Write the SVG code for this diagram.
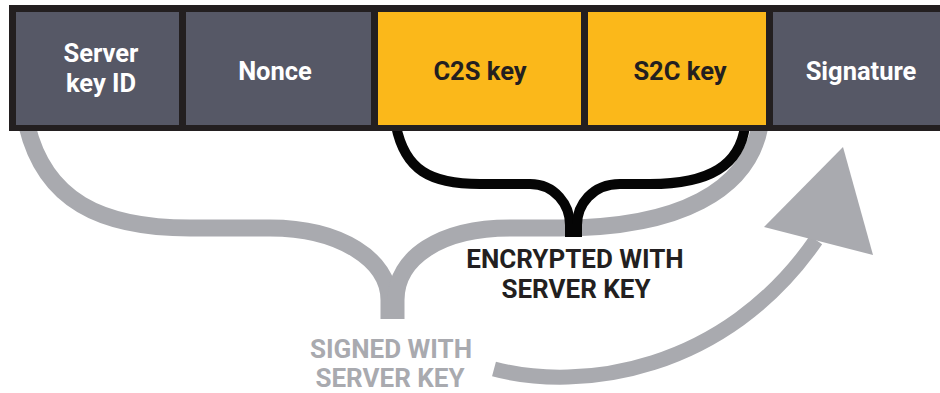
<svg xmlns="http://www.w3.org/2000/svg" width="940" height="393" viewBox="0 0 940 393">
<defs>
<style>
.cell-dark{fill:#565866}
.cell-key{fill:#FBB81A}
.lbl{font-family:Roboto,"Liberation Sans",sans-serif;font-weight:bold;font-size:25.5px;text-anchor:middle}
.lw{fill:#FFFFFF}
.lk{fill:#231F20}
.cap{font-family:Roboto,"Liberation Sans",sans-serif;font-weight:bold;font-size:26px;text-anchor:middle}
.gray-brace{fill:none;stroke:#A9AAAF;stroke-width:17}
.black-brace{fill:none;stroke:#050505;stroke-width:10}
</style>
</defs>
<rect width="940" height="393" fill="#FFFFFF"/>
<g id="connectors">
<path class="gray-brace" d="M27 126 C45 200,100 228,190 228 L270 228 C340 228,389 260,389 300 L389 319"/>
<path class="gray-brace" d="M396 319 L396 300 C396 258,440 228,510 228 L560 228 C680 228,748 190,760 126"/>
<path class="black-brace" d="M396 126 C405 170,430 184,480 184 L530 184 C555 184,570 205,570 225 L570 237"/>
<path class="black-brace" d="M577 237 L577 225 C577 205,592 184,620 184 L650 184 C710 184,740 165,745 126"/>
<path fill="none" stroke="#A9AAAF" stroke-width="15" d="M494 369 C580 392,725 372,816 240"/>
<polygon fill="#A9AAAF" points="843,147 764,227 873,255"/>
</g>
<rect x="9" y="5" width="931" height="126" fill="#231F20"/>
<g id="server-key-id">
<rect class="cell-dark" x="16" y="12" width="163" height="113"/>
<text class="lbl lw" x="101" y="62">Server</text>
<text class="lbl lw" x="101" y="92">key ID</text>
</g>
<g id="nonce">
<rect class="cell-dark" x="186" y="12" width="185" height="113"/>
<text class="lbl lw" x="275" y="80">Nonce</text>
</g>
<g id="c2s-key">
<rect class="cell-key" x="378" y="12" width="203" height="113"/>
<text class="lbl lk" x="480" y="80">C2S key</text>
</g>
<g id="s2c-key">
<rect class="cell-key" x="588" y="12" width="178" height="113"/>
<text class="lbl lk" x="680" y="80">S2C key</text>
</g>
<g id="signature">
<rect class="cell-dark" x="773" y="12" width="167" height="113"/>
<text class="lbl lw" x="861" y="80">Signature</text>
</g>
<g id="labels">
<text class="cap" fill="#231F20" x="575" y="268">ENCRYPTED WITH</text>
<text class="cap" fill="#231F20" x="576" y="298">SERVER KEY</text>
<text class="cap" fill="#A9AAAF" x="391" y="358">SIGNED WITH</text>
<text class="cap" fill="#A9AAAF" x="390" y="387">SERVER KEY</text>
</g>
</svg>
